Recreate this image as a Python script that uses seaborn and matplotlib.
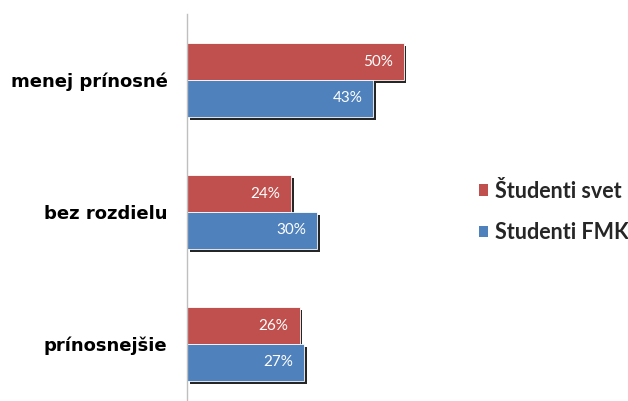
import matplotlib
matplotlib.use("Agg")
import matplotlib.pyplot as plt
import matplotlib.patheffects as pe
from matplotlib.patches import Patch
import seaborn as sns
import pandas as pd

categories = ["menej prínosné", "bez rozdielu", "prínosnejšie"]
series = ["Študenti svet", "Studenti FMK"]
svet = [50, 24, 26]
fmk = [43, 30, 27]
colors = ["#C0504D", "#4F81BD"]

df = pd.DataFrame({
    "cat": categories * 2,
    "series": [series[0]] * 3 + [series[1]] * 3,
    "val": svet + fmk,
})

sns.set_theme(style="white")
plt.rcParams["font.family"] = ["Lato", "DejaVu Sans"]

fig = plt.figure(figsize=(6.28, 4.01), dpi=100)
ax = fig.add_axes([187 / 628, 0, 260 / 628, 387 / 401])

sns.barplot(data=df, y="cat", x="val", hue="series", order=categories,
            hue_order=series, palette=colors, orient="h", width=0.56,
            gap=0, ax=ax, legend=False, saturation=1)

for p in ax.patches:
    p.set_edgecolor("white")
    p.set_linewidth(0.6)
    p.set_path_effects([pe.SimplePatchShadow(offset=(2, -2), shadow_rgbFace="black", alpha=0.85),
                        pe.Normal()])

for cont in ax.containers:
    for bar, v in zip(cont.patches, cont.datavalues):
        ax.annotate(f"{v:.0f}%", xy=(bar.get_width(), bar.get_y() + bar.get_height() / 2),
                    xytext=(-8, 0), textcoords="offset points", ha="right", va="center",
                    color="white", fontsize=11)

ax.set_xlim(0, 60)
ax.set_ylim(2.432, -0.5)
ax.set_xlabel("")
ax.set_ylabel("")
ax.set_xticks([])
ax.tick_params(axis="y", length=0, pad=14)
for lab in ax.get_yticklabels():
    lab.set_fontweight("bold")
    lab.set_fontsize(13)
    lab.set_family(["DejaVu Sans"])
    lab.set_color("black")
for s in ["top", "right", "bottom"]:
    ax.spines[s].set_visible(False)
ax.spines["left"].set_color("#BFBFBF")
ax.spines["left"].set_linewidth(1)

handles = [Patch(facecolor=c, edgecolor="none") for c in colors]
fig.legend(handles, series, loc="center left", bbox_to_anchor=(470 / 628, 1 - 212 / 401),
           frameon=False, handlelength=0.45, handleheight=0.45, handletextpad=0.3,
           borderaxespad=0, borderpad=0.4,
           labelspacing=0.95, prop={"weight": "bold", "size": 15.5})

fig.savefig("out.png", dpi=100)
